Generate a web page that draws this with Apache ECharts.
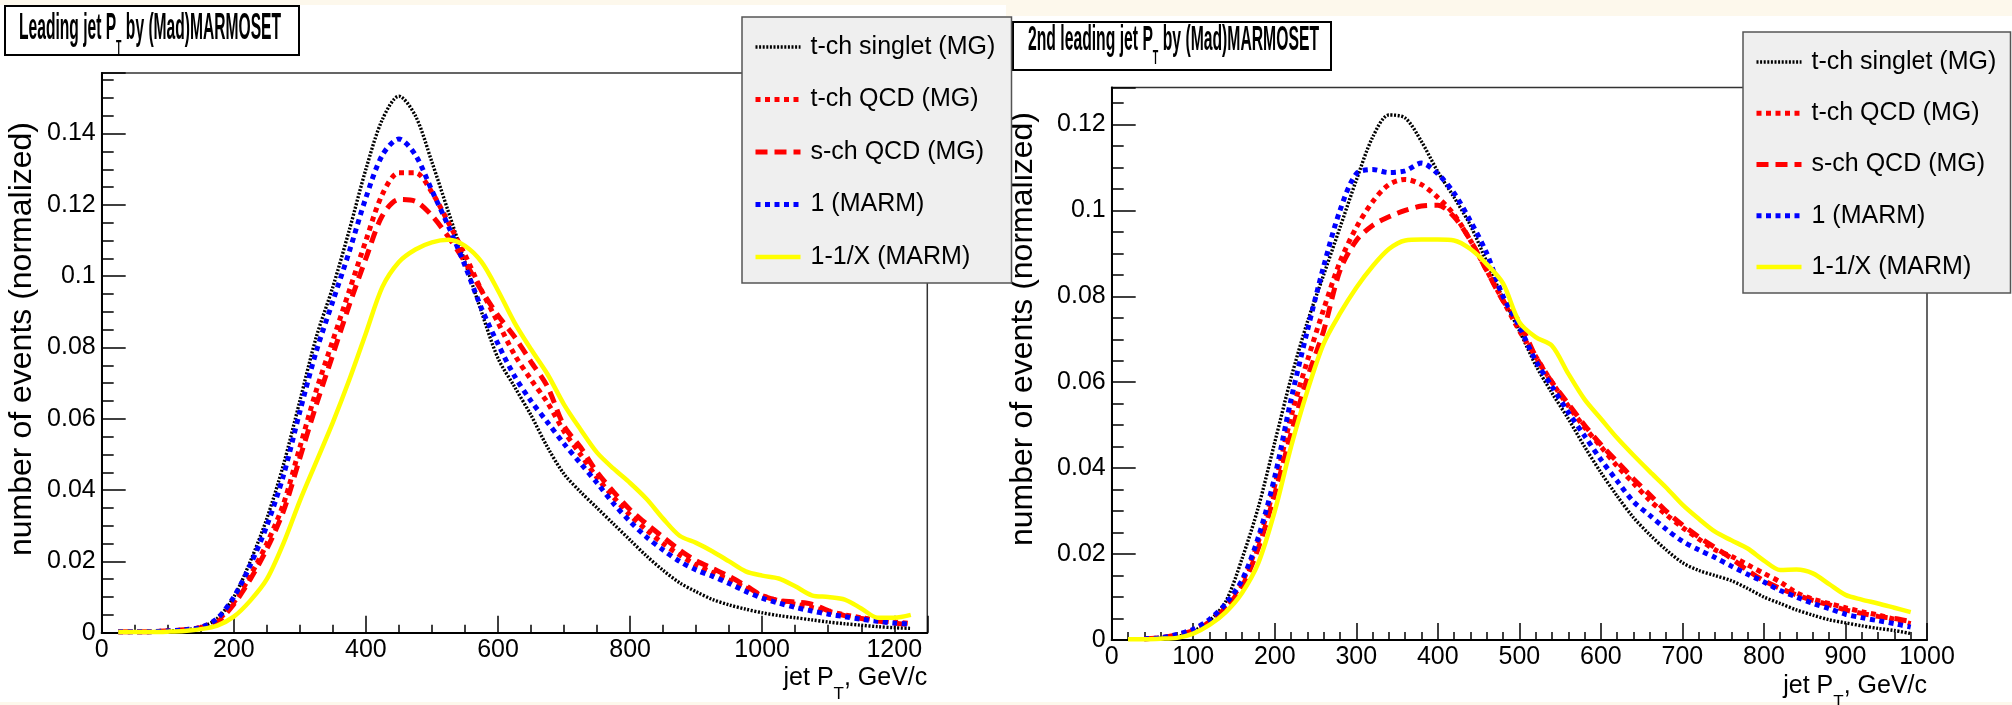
<!DOCTYPE html>
<html><head><meta charset="utf-8">
<script src="https://cdn.jsdelivr.net/npm/echarts@6/dist/echarts.min.js"></script>
<style>
html,body{margin:0;padding:0;background:#fdf8ec;overflow:hidden;}
#bgL{position:absolute;left:0;top:5px;width:1006px;height:697px;background:#fff;}
#bgR{position:absolute;left:1006px;top:16px;width:1006px;height:686px;background:#fff;}
#main{position:absolute;left:0;top:0;width:2012px;height:705px;}
</style></head><body>
<div id="bgL"></div><div id="bgR"></div>
<div id="main"></div>
<script>
// ---------------- DATA ----------------
const seriesNames = ['t-ch singlet (MG)', 't-ch QCD (MG)', 's-ch QCD (MG)', '1 (MARM)', '1-1/X (MARM)'];

// Leading jet PT (left panel), x = bin centres in GeV
const leadX = [25,50,75,100,125,150,175,200,225,250,275,300,325,350,375,400,425,450,475,500,525,550,575,600,625,650,675,700,725,750,775,800,825,850,875,900,925,950,975,1000,1025,1050,1075,1100,1125,1150,1175,1200,1225];
const leadSinglet = [0.0003,0.0003,0.0003,0.0005,0.0008,0.0015,0.0040,0.0100,0.0200,0.0320,0.0470,0.0650,0.0830,0.0970,0.1130,0.1300,0.1440,0.1505,0.1450,0.1320,0.1180,0.1040,0.0900,0.0770,0.0690,0.0610,0.0520,0.0445,0.0395,0.0350,0.0305,0.0260,0.0215,0.0175,0.0140,0.0115,0.0093,0.0078,0.0066,0.0056,0.0048,0.0042,0.0036,0.0030,0.0025,0.0021,0.0017,0.0014,0.0012];
const leadTQCD = [0.0003,0.0003,0.0003,0.0005,0.0008,0.0015,0.0035,0.0085,0.0160,0.0250,0.0360,0.0520,0.0680,0.0820,0.0960,0.1100,0.1230,0.1290,0.1290,0.1235,0.1150,0.1060,0.0960,0.0870,0.0780,0.0710,0.0645,0.0565,0.0500,0.0435,0.0380,0.0330,0.0288,0.0250,0.0218,0.0190,0.0168,0.0148,0.0126,0.0104,0.0090,0.0080,0.0071,0.0060,0.0050,0.0042,0.0035,0.0030,0.0026];
const leadSQCD = [0.0003,0.0003,0.0003,0.0005,0.0008,0.0014,0.0030,0.0080,0.0150,0.0235,0.0340,0.0490,0.0640,0.0780,0.0920,0.1050,0.1170,0.1215,0.1210,0.1170,0.1110,0.1040,0.0960,0.0890,0.0830,0.0760,0.0690,0.0580,0.0520,0.0450,0.0395,0.0345,0.0305,0.0268,0.0232,0.0202,0.0180,0.0158,0.0132,0.0104,0.0090,0.0086,0.0080,0.0062,0.0048,0.0040,0.0033,0.0027,0.0022];
const leadOne = [0.0003,0.0003,0.0003,0.0005,0.0008,0.0015,0.0040,0.0100,0.0190,0.0300,0.0440,0.0620,0.0790,0.0930,0.1070,0.1220,0.1340,0.1385,0.1340,0.1240,0.1140,0.1030,0.0910,0.0810,0.0720,0.0650,0.0590,0.0530,0.0475,0.0420,0.0362,0.0312,0.0268,0.0232,0.0200,0.0176,0.0158,0.0138,0.0116,0.0097,0.0083,0.0071,0.0061,0.0052,0.0045,0.0038,0.0032,0.0027,0.0024];
const leadOneMinusInvX = [0.0002,0.0002,0.0002,0.0003,0.0005,0.0010,0.0020,0.0045,0.0090,0.0150,0.0250,0.0370,0.0480,0.0590,0.0710,0.0840,0.0970,0.1040,0.1075,0.1095,0.1102,0.1085,0.1040,0.0960,0.0870,0.0795,0.0725,0.0640,0.0570,0.0505,0.0460,0.0420,0.0375,0.0320,0.0272,0.0252,0.0228,0.0200,0.0172,0.0160,0.0152,0.0130,0.0105,0.0100,0.0093,0.0068,0.0042,0.0042,0.0050];

// 2nd leading jet PT (right panel)
const subX = [20,40,60,80,100,120,140,160,180,200,220,240,260,280,300,320,340,360,380,400,420,440,460,480,500,520,540,560,580,600,620,640,660,680,700,720,740,760,780,800,820,840,860,880,900,920,940,960,980];
const subSinglet = [null,0.0003,0.0004,0.0008,0.0020,0.0045,0.0090,0.0190,0.0310,0.0460,0.0610,0.0740,0.0850,0.0960,0.1070,0.1170,0.1222,0.1215,0.1160,0.1090,0.1030,0.0965,0.0880,0.0795,0.0720,0.0640,0.0575,0.0515,0.0450,0.0390,0.0335,0.0285,0.0245,0.0210,0.0180,0.0162,0.0150,0.0138,0.0120,0.0100,0.0085,0.0070,0.0058,0.0047,0.0040,0.0033,0.0027,0.0022,0.0015];
const subTQCD = [null,0.0003,0.0005,0.0012,0.0023,0.0045,0.0080,0.0135,0.0230,0.0360,0.0520,0.0650,0.0770,0.0880,0.0960,0.1020,0.1060,0.1072,0.1060,0.1030,0.0990,0.0930,0.0860,0.0790,0.0720,0.0660,0.0600,0.0545,0.0495,0.0450,0.0405,0.0365,0.0325,0.0292,0.0262,0.0235,0.0210,0.0195,0.0175,0.0155,0.0135,0.0110,0.0095,0.0085,0.0075,0.0066,0.0058,0.0048,0.0038];
const subSQCD = [null,0.0003,0.0005,0.0012,0.0022,0.0042,0.0075,0.0125,0.0215,0.0340,0.0480,0.0610,0.0720,0.0860,0.0930,0.0965,0.0985,0.1000,0.1010,0.1012,0.0985,0.0930,0.0860,0.0790,0.0740,0.0660,0.0600,0.0550,0.0500,0.0455,0.0415,0.0375,0.0338,0.0300,0.0268,0.0240,0.0215,0.0190,0.0162,0.0138,0.0120,0.0105,0.0092,0.0082,0.0070,0.0062,0.0055,0.0050,0.0043];
const subOne = [null,0.0003,0.0005,0.0013,0.0025,0.0048,0.0085,0.0140,0.0240,0.0380,0.0560,0.0720,0.0870,0.1000,0.1085,0.1095,0.1088,0.1092,0.1110,0.1085,0.1040,0.0975,0.0900,0.0800,0.0730,0.0650,0.0590,0.0530,0.0475,0.0420,0.0370,0.0322,0.0290,0.0258,0.0230,0.0210,0.0192,0.0172,0.0153,0.0135,0.0115,0.0100,0.0085,0.0073,0.0060,0.0052,0.0045,0.0038,0.0030];
const subOneMinusInvX = [0.0002,0.0002,0.0003,0.0005,0.0015,0.0035,0.0065,0.0110,0.0180,0.0300,0.0450,0.0580,0.0690,0.0760,0.0820,0.0870,0.0910,0.0930,0.0932,0.0932,0.0930,0.0910,0.0875,0.0830,0.0740,0.0705,0.0685,0.0620,0.0560,0.0515,0.0470,0.0430,0.0392,0.0355,0.0315,0.0282,0.0252,0.0232,0.0213,0.0185,0.0163,0.0164,0.0155,0.0130,0.0105,0.0094,0.0085,0.0075,0.0065];

// Axis ranges / tick steps
const leadXAxis = {max: 1250, major: 200, minor: 50};
const leadYAxis = {max: 0.157, major: 0.02, minor: 0.005};
const subXAxis = {max: 1000, major: 100, minor: 20};
const subYAxis = {max: 0.1286, major: 0.02, minor: 0.005};

// Texts
const titleLead = ['Leading jet P', 'T', ' by (Mad)MARMOSET'];
const titleSub = ['2nd leading jet P', 'T', ' by (Mad)MARMOSET'];
const xTitle = ['jet P', 'T', ', GeV/c'];
const yTitle = 'number of events (normalized)';

// ---------------- STYLE / LAYOUT ----------------
const FONT = "'Liberation Sans', Arial, Helvetica, sans-serif";
const styles = [
  {color: '#000000', width: 3.4, type: [2, 1.6]},
  {color: '#ff0000', width: 5, type: [5, 4.5]},
  {color: '#ff0000', width: 5, type: [12, 7]},
  {color: '#0000ff', width: 5, type: [5, 4.5]},
  {color: '#ffff00', width: 4.5, type: 'solid'}
];
const L = {x0: 101.7, x1: 927.3, y0: 73, y1: 632.7};
const R = {x0: 1111.7, x1: 1927, y0: 87.5, y1: 640};

function fontStr(size, weight) { return (weight || 'normal') + ' ' + size + 'px ' + FONT; }
function tw(t, size, weight) {
  try {
    const el = new echarts.graphic.Text({style: {text: t, font: fontStr(size, weight)}});
    const w = el.getBoundingRect().width;
    if (w > 0) return w;
  } catch (e) {}
  const c = document.createElement('canvas').getContext('2d');
  c.font = fontStr(size, weight);
  return c.measureText(t).width;
}

function isMult(v, step) { const r = v / step; return Math.abs(r - Math.round(r)) < 1e-6; }
function fmt(v) { return String(+v.toFixed(6)); }

function axes(gi, ax, isX) {
  const major = {
    gridIndex: gi, type: 'value', min: 0, max: ax.max, interval: ax.major,
    position: isX ? 'bottom' : 'left',
    axisLine: {show: true, onZero: false, lineStyle: {color: '#000', width: 2}},
    axisTick: {show: true, inside: true, length: isX ? 17 : 24, lineStyle: {color: '#000', width: 1.5}},
    minorTick: {show: false},
    axisLabel: {show: true, inside: false, margin: isX ? 5 : 6, fontSize: 25, fontFamily: FONT, color: '#000',
      showMinLabel: true, showMaxLabel: true, hideOverlap: false,
      formatter: v => isMult(v, ax.major) ? fmt(v) : ''},
    splitLine: {show: false}
  };
  const minor = {
    gridIndex: gi, type: 'value', min: 0, max: ax.max, interval: ax.minor,
    position: isX ? 'bottom' : 'left', offset: 0,
    axisLine: {show: false, onZero: false},
    axisTick: {show: true, inside: true, length: isX ? 8 : 12, lineStyle: {color: '#000', width: 1.5}},
    axisLabel: {show: false}, splitLine: {show: false}
  };
  return [major, minor];
}

function mkSeries(gi, xs, arrs) {
  return arrs.map((arr, i) => ({
    type: 'line', name: seriesNames[i],
    xAxisIndex: gi * 2, yAxisIndex: gi * 2,
    data: xs.map((x, k) => [x, arr[k]]),
    symbol: 'none', showSymbol: false, smooth: 0.3, connectNulls: false,
    lineStyle: {color: styles[i].color, width: styles[i].width, type: styles[i].type, cap: 'butt'},
    itemStyle: {color: styles[i].color},
    z: 2 + i, silent: true
  }));
}

function legendOpt(left, top, boxW, padT, gap, padB) {
  const textW = Math.max(...seriesNames.map(n => tw(n, 25)));
  const padL = 11;
  const contentW = 45 + 5 + 5 + textW;
  const padR = Math.max(2, boxW - padL - contentW);
  return {
    orient: 'vertical', left: left, top: top, itemWidth: 45, itemHeight: 30, itemGap: gap,
    padding: [padT, padR, padB, padL], backgroundColor: '#efefef', borderColor: '#555', borderWidth: 1.5,
    borderRadius: 0, selectedMode: false,
    data: seriesNames.map((n, i) => ({
      name: n,
      itemStyle: {opacity: 0, color: 'rgba(0,0,0,0)', borderWidth: 0},
      lineStyle: {color: styles[i].color, width: styles[i].width, type: styles[i].type, opacity: 1}
    })),
    itemStyle: {opacity: 0, color: 'rgba(0,0,0,0)', borderWidth: 0},
    textStyle: {fontSize: 25, fontFamily: FONT, color: '#000', lineHeight: 30, padding: [0, 0, 0, 5]}
  };
}

function textRun(pieces, x, y, align, targetW) {
  const widths = pieces.map(p => tw(p.t, p.s, p.w));
  const total = widths.reduce((a, b) => a + b, 0);
  const sx = targetW ? targetW / total : 1;
  const out = [];
  let cx = 0;
  const x0 = align === 'right' ? x - total * sx : x;
  pieces.forEach((p, i) => {
    out.push({type: 'text', x: x0 + cx * sx, y: y + (p.dy || 0), scaleX: sx, scaleY: 1, silent: true,
      style: {text: p.t, font: fontStr(p.s, p.w), fill: '#000', align: 'left', verticalAlign: 'middle'}});
    cx += widths[i];
  });
  return out;
}

function buildOption() {
  const [lx0, lx1] = axes(0, leadXAxis, true);
  const [ly0, ly1] = axes(0, leadYAxis, false);
  const [rx0, rx1] = axes(1, subXAxis, true);
  const [ry0, ry1] = axes(1, subYAxis, false);

  const graphic = [].concat(
    [{type: 'rect', shape: {x: 5, y: 6, width: 294, height: 49}, style: {fill: '#fff', stroke: '#000', lineWidth: 2}}],
    textRun([{t: titleLead[0], s: 37, w: 'bold'}, {t: titleLead[1], s: 21, w: 'bold', dy: 19}, {t: titleLead[2], s: 37, w: 'bold'}], 19, 29, 'left', 262),
    [{type: 'rect', shape: {x: 1013, y: 22, width: 318, height: 48}, style: {fill: '#fff', stroke: '#000', lineWidth: 2}}],
    textRun([{t: titleSub[0], s: 35, w: 'bold'}, {t: titleSub[1], s: 20, w: 'bold', dy: 18}, {t: titleSub[2], s: 35, w: 'bold'}], 1028, 40, 'left', 291),
    textRun([{t: xTitle[0], s: 25}, {t: xTitle[1], s: 17, dy: 16}, {t: xTitle[2], s: 25}], L.x1, 678, 'right'),
    textRun([{t: xTitle[0], s: 25}, {t: xTitle[1], s: 17, dy: 16}, {t: xTitle[2], s: 25}], R.x1, 686, 'right'),
    [{type: 'text', x: 22, y: 122, rotation: Math.PI / 2, silent: true,
      style: {text: yTitle, font: fontStr(32), fill: '#000', align: 'right', verticalAlign: 'middle'}},
     {type: 'text', x: 1023, y: 112, rotation: Math.PI / 2, silent: true,
      style: {text: yTitle, font: fontStr(32), fill: '#000', align: 'right', verticalAlign: 'middle'}}]
  );

  return {
    animation: false,
    backgroundColor: 'transparent',
    grid: [
      {left: L.x0, top: L.y0, width: L.x1 - L.x0, height: L.y1 - L.y0, show: true, borderColor: '#333', borderWidth: 1.5, backgroundColor: 'transparent', containLabel: false, outerBoundsMode: 'none'},
      {left: R.x0, top: R.y0, width: R.x1 - R.x0, height: R.y1 - R.y0, show: true, borderColor: '#333', borderWidth: 1.5, backgroundColor: 'transparent', containLabel: false, outerBoundsMode: 'none'}
    ],
    xAxis: [lx0, lx1, rx0, rx1],
    yAxis: [ly0, ly1, ry0, ry1],
    legend: [legendOpt(742, 17, 267, 15, 22.5, 11), legendOpt(1743, 32, 265, 15, 21.25, 11)],
    graphic: graphic,
    series: [].concat(
      mkSeries(0, leadX, [leadSinglet, leadTQCD, leadSQCD, leadOne, leadOneMinusInvX]),
      mkSeries(1, subX, [subSinglet, subTQCD, subSQCD, subOne, subOneMinusInvX])
    )
  };
}

const chart = echarts.init(document.getElementById('main'), null, {renderer: 'canvas', width: 2012, height: 705});
chart.setOption(buildOption(), true);
</script>
</body></html>
